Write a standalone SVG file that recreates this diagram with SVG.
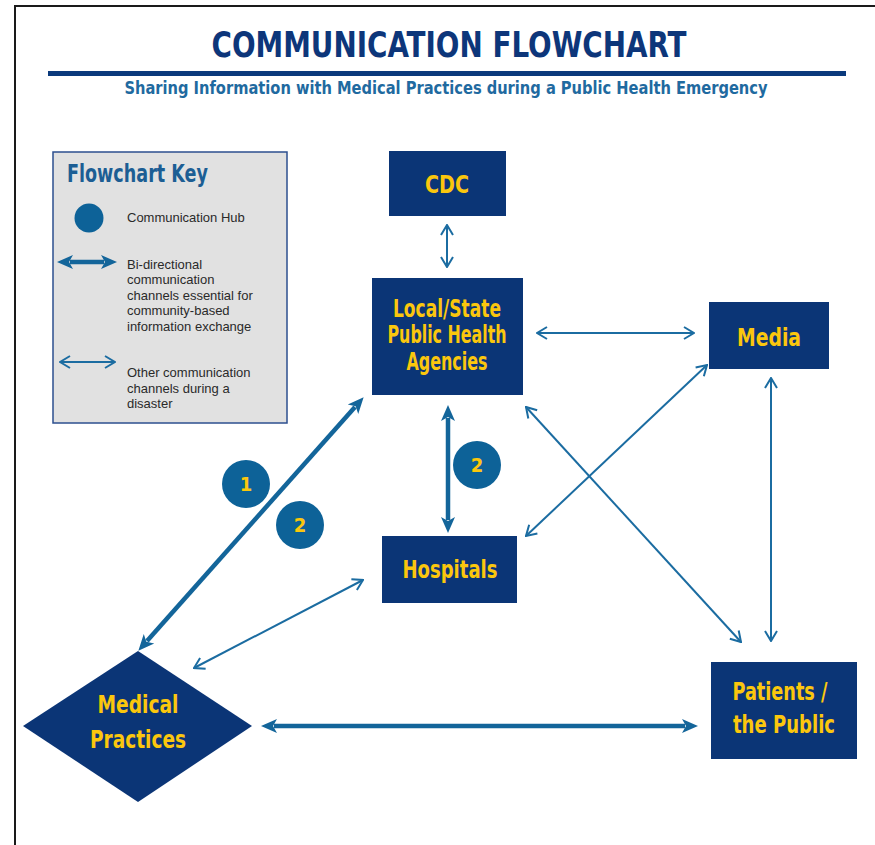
<svg xmlns="http://www.w3.org/2000/svg" width="875" height="845" viewBox="0 0 875 845">
  <style>
    .node { fill: #0b3576; }
    .lbl { font-family: 'Liberation Sans Narrow', 'DejaVu Sans Condensed', 'Liberation Sans', Arial, sans-serif; font-weight: bold; fill: #fbc70d; text-anchor: middle; }
    .hub { fill: #0d6298; }
    .thin { stroke: #1b6ca1; stroke-width: 2; fill: none; marker-start: url(#open); marker-end: url(#open); }
    .thick { stroke: #13659a; stroke-width: 4.5; fill: none; marker-start: url(#solid); marker-end: url(#solid); }
    .key { font-family: 'Liberation Sans', Arial, sans-serif; font-size: 13px; fill: #2a2a2a; }
  </style>
  <defs>
    <marker id="open" viewBox="0 0 12 14" refX="11" refY="7" markerWidth="12" markerHeight="14" markerUnits="userSpaceOnUse" orient="auto-start-reverse">
      <path d="M1,1 L11,7 L1,13" fill="none" stroke="#1b6ca1" stroke-width="2"/>
    </marker>
    <marker id="solid" viewBox="0 0 16 16" refX="3" refY="8" markerWidth="16" markerHeight="16" markerUnits="userSpaceOnUse" orient="auto-start-reverse">
      <path d="M0,1 L16,8 L0,15 L4,8 Z" fill="#13659a"/>
    </marker>
  </defs>

  <rect width="875" height="845" fill="#ffffff"/>
  <!-- page frame -->
  <path d="M15,845 V6 H875" fill="none" stroke="#1a1a1a" stroke-width="2"/>

  <!-- heading -->
  <g id="heading">
    <text x="449" y="57" class="lbl" style="fill:#0d367a;font-size:35px" textLength="475" lengthAdjust="spacingAndGlyphs">COMMUNICATION FLOWCHART</text>
    <rect x="48" y="71" width="798" height="5" fill="#0b3a7c"/>
    <text x="446" y="94" class="lbl" style="fill:#1f6aa0;font-size:17px" textLength="643" lengthAdjust="spacingAndGlyphs">Sharing Information with Medical Practices during a Public Health Emergency</text>
  </g>

  <!-- legend -->
  <g id="legend">
    <rect x="53" y="152" width="234" height="271" fill="#e1e1e1" stroke="#2c4f8f" stroke-width="1.5"/>
    <text x="67" y="182" class="lbl" style="fill:#1c5e94;font-size:25px;text-anchor:start" textLength="141" lengthAdjust="spacingAndGlyphs">Flowchart Key</text>
    <circle cx="89" cy="218" r="14.5" class="hub"/>
    <text x="127" y="222" class="key">Communication Hub</text>
    <line x1="70" y1="262" x2="104" y2="262" class="thick"/>
    <text class="key">
      <tspan x="127" y="269">Bi-directional</tspan>
      <tspan x="127" y="284">communication</tspan>
      <tspan x="127" y="300">channels essential for</tspan>
      <tspan x="127" y="315">community-based</tspan>
      <tspan x="127" y="331">information exchange</tspan>
    </text>
    <line x1="60" y1="362" x2="115" y2="362" class="thin"/>
    <text class="key">
      <tspan x="127" y="377">Other communication</tspan>
      <tspan x="127" y="393">channels during a</tspan>
      <tspan x="127" y="408">disaster</tspan>
    </text>
  </g>

  <!-- connectors -->
  <g id="connectors">
    <line x1="447" y1="225" x2="447" y2="267" class="thin"/>
    <line x1="537" y1="333" x2="694" y2="333" class="thin"/>
    <line x1="771" y1="378" x2="771" y2="641" class="thin"/>
    <line x1="707" y1="365" x2="526" y2="536" class="thin"/>
    <line x1="526" y1="407" x2="741" y2="642" class="thin"/>
    <line x1="363" y1="580" x2="194" y2="668" class="thin"/>
    <line x1="448" y1="418" x2="448" y2="520" class="thick"/>
    <line x1="355" y1="407" x2="147" y2="641" class="thick"/>
    <line x1="274" y1="726" x2="685" y2="726" class="thick"/>
  </g>

  <!-- hubs -->
  <g id="hub-1">
    <circle cx="246" cy="484" r="24" class="hub"/>
    <text x="246" y="491" class="lbl" style="font-size:20px">1</text>
  </g>
  <g id="hub-2a">
    <circle cx="300" cy="525" r="24" class="hub"/>
    <text x="300" y="532" class="lbl" style="font-size:20px">2</text>
  </g>
  <g id="hub-2b">
    <circle cx="477" cy="465" r="24" class="hub"/>
    <text x="477" y="472" class="lbl" style="font-size:20px">2</text>
  </g>

  <!-- nodes -->
  <g id="cdc">
    <rect x="389" y="151" width="117" height="65" class="node"/>
    <text x="447" y="193" class="lbl" style="font-size:25px" textLength="44" lengthAdjust="spacingAndGlyphs">CDC</text>
  </g>
  <g id="public-health">
    <rect x="372" y="278" width="151" height="117" class="node"/>
    <text x="447" y="317" class="lbl" style="font-size:24px" textLength="108" lengthAdjust="spacingAndGlyphs">Local/State</text>
    <text x="447" y="343" class="lbl" style="font-size:24px" textLength="119" lengthAdjust="spacingAndGlyphs">Public Health</text>
    <text x="447" y="370" class="lbl" style="font-size:24px" textLength="81" lengthAdjust="spacingAndGlyphs">Agencies</text>
  </g>
  <g id="media">
    <rect x="709" y="302" width="120" height="67" class="node"/>
    <text x="769" y="346" class="lbl" style="font-size:25px" textLength="64" lengthAdjust="spacingAndGlyphs">Media</text>
  </g>
  <g id="hospitals">
    <rect x="382" y="536" width="135" height="67" class="node"/>
    <text x="450" y="578" class="lbl" style="font-size:25px" textLength="95" lengthAdjust="spacingAndGlyphs">Hospitals</text>
  </g>
  <g id="medical-practices">
    <polygon points="23,726 138,651 252,726 138,802" class="node"/>
    <text x="138" y="713" class="lbl" style="font-size:25px" textLength="81" lengthAdjust="spacingAndGlyphs">Medical</text>
    <text x="138" y="748" class="lbl" style="font-size:25px" textLength="96" lengthAdjust="spacingAndGlyphs">Practices</text>
  </g>
  <g id="patients">
    <rect x="711" y="662" width="146" height="97" class="node"/>
    <text x="780" y="700" class="lbl" style="font-size:25px" textLength="95" lengthAdjust="spacingAndGlyphs">Patients /</text>
    <text x="784" y="733" class="lbl" style="font-size:25px" textLength="102" lengthAdjust="spacingAndGlyphs">the Public</text>
  </g>
</svg>
